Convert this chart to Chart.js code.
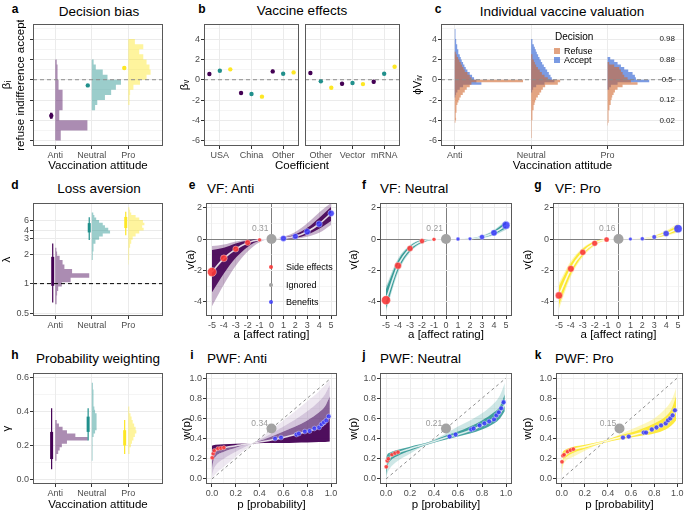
<!DOCTYPE html>
<html>
<head>
<meta charset="utf-8">
<title>Vaccine decision model</title>
<script src="https://cdn.jsdelivr.net/npm/chart.js@4.4.1/dist/chart.umd.min.js"></script>
<style>
  body { margin: 0; background: #fff; }
  #fig { position: relative; width: 685px; height: 512px; overflow: hidden; font-family: "Liberation Sans", Arial, Helvetica, sans-serif; }
  .box { position: absolute; }
  .txt { position: absolute; white-space: nowrap; line-height: 1; color: #000; }
  .sw { position: absolute; }
</style>
</head>
<body>
<div id="fig"></div>
<script>
// ---------------- data ----------------
const attitudes = ['Anti', 'Neutral', 'Pro'];

// a: decision bias (estimate, interval, individual histogram, bins of 0.5)
const biasTicks = [-6, -5, -4, -3, -2, -1, 0, 1, 2, 3, 4, 5];
const biasEst = [-3.55, -0.56, 1.15];
const biasLo = [-3.85, -0.68, 1.0];
const biasHi = [-3.25, -0.44, 1.3];
const biasHistStart = [-5.75, -2.75, -2.25];
const biasHistAnti = [0.15, 0.15, 0.88, 0.88, 0.11, 0.11, 0.2, 0.2, 0.2, 0.2, 0.09, 0.09, 0.07, 0.07, 0.05, 0.04];
const biasHistNeutral = [0.09, 0.15, 0.36, 0.53, 0.66, 0.8, 0.43, 0.3, 0.11, 0.05];
const biasHistPro = [0.02, 0.04, 0.05, 0.14, 0.32, 0.5, 0.61, 0.58, 0.5, 0.41, 0.3, 0.41, 0.18];

// b: vaccine effects
const vacOrigin = ['USA', 'China', 'Other'];
const vacType = ['Other', 'Vector', 'mRNA'];
const originAnti = [0.56, -1.31, 0.82];
const originNeutral = [0.89, -1.41, 0.59];
const originPro = [1.02, -1.67, 0.72];
const typeAnti = [0.66, -0.39, -0.2];
const typeNeutral = [-0.16, -0.33, 0.59];
const typePro = [-0.79, -0.43, 1.28];
const vacErr = [0.17, 0.08, 0.1];

// c: individual vaccine valuation, bins of 0.25 (first bin centre given)
const cAntiAccept = [2, 4, 8, 15, 25, 80, 65, 58, 52, 45, 38, 33, 29, 25, 21, 18, 15, 12, 10, 8, 7, 5, 4, 3, 3, 2, 1];
const cAntiRefuse = [2, 4, 3, 3, 4, 5, 6, 8, 11, 14, 18, 24, 30, 36, 45, 50, 205, 50, 45, 38, 30, 26, 22, 18, 14, 10, 6, 3];
const cNeutralAccept = [3, 6, 15, 40, 70, 62, 58, 53, 48, 43, 38, 33, 29, 25, 21, 17, 14, 11, 8, 5, 3];
const cNeutralRefuse = [1, 1, 1, 1, 2, 2, 2, 3, 3, 4, 5, 6, 8, 10, 12, 15, 20, 25, 30, 35, 42, 80, 87, 50, 40, 32, 26, 20, 15, 11, 8, 5, 3];
const cProAccept = [5, 10, 30, 125, 85, 82, 75, 62, 50, 40, 30, 20, 8];
const cProRefuse = [1, 2, 2, 3, 3, 4, 5, 6, 8, 10, 12, 14, 18, 22, 30, 45, 90, 70, 60, 50, 45, 40, 35, 20, 5];
const cAcceptStart = [-1.625, -1.125, -0.875];
const cRefuseStart = [-4.125, -5.625, -4.375];
const cProbAt = [4, 2, 0, -2, -4];
const cProbLabels = ['0.98', '0.88', '0.5', '0.12', '0.02'];

// d: loss aversion (histograms binned in log2(lambda), step 0.15)
const lossTicks = [0.5, 1, 2, 3, 4, 6];
const lossAxisPos = [-1, 0, 1, 1.522, 1.809, 2.15];
const lossThinLo = [0.64, 2.9, 3.4];
const lossThinHi = [2.65, 6.8, 8.5];
const lossThickLo = [0.95, 3.73, 4.4];
const lossThickHi = [1.88, 5.37, 6.9];
const lossHistStart = [-0.625, 0.875, 0.725];
const lossHistAnti = [0.03, 0.04, 0.05, 0.08, 0.18, 0.42, 0.93, 0.46, 0.25, 0.2, 0.12, 0.05, 0.03];
const lossHistNeutral = [0.02, 0.03, 0.04, 0.05, 0.1, 0.2, 0.3, 0.5, 0.45, 0.36, 0.3, 0.2, 0.12, 0.07, 0.04];
const lossHistPro = [0.01, 0.02, 0.02, 0.03, 0.05, 0.08, 0.12, 0.2, 0.3, 0.42, 0.38, 0.44, 0.4, 0.3, 0.2, 0.08, 0.05, 0.03];

// e-g: value functions
const affect = [-5, -4, -3, -2, -1, 0, 1, 2, 3, 4, 5];
const vfYTicks = [-4, -3, -2, -1, 0, 1, 2];
const vfAntiMed = [-2.1, -1.23, -0.64, -0.23, -0.05, 0, 0.04, 0.17, 0.47, 0.96, 1.64];
const vfAntiOuterLo = [-4.3, -2.9, -1.7, -0.8, -0.2, 0, 0, 0.02, 0.15, 0.4, 0.9];
const vfAntiInnerLo = [-3.4, -2.2, -1.2, -0.5, -0.1, 0, 0.01, 0.07, 0.28, 0.65, 1.15];
const vfAntiInnerHi = [-0.7, -0.55, -0.28, -0.09, -0.01, 0, 0.08, 0.3, 0.72, 1.35, 2.05];
const vfAntiOuterHi = [-0.45, -0.35, -0.15, -0.05, 0, 0, 0.15, 0.45, 1.0, 1.7, 2.3];
const vfNeutralMed = [-3.9, -1.7, -0.6, -0.13, -0.02, 0, 0, 0.02, 0.13, 0.4, 0.88];
const vfNeutralOuterLo = [-4.6, -2.15, -0.85, -0.27, -0.05, 0, 0, 0, 0.05, 0.24, 0.6];
const vfNeutralInnerLo = [-4.4, -2.0, -0.78, -0.22, -0.04, 0, 0, 0.01, 0.08, 0.3, 0.7];
const vfNeutralInnerHi = [-3.2, -1.38, -0.44, -0.06, -0.01, 0, 0, 0.04, 0.19, 0.52, 1.1];
const vfNeutralOuterHi = [-3.0, -1.25, -0.38, -0.04, 0, 0, 0.01, 0.05, 0.22, 0.58, 1.2];
const vfProMed = [-3.6, -1.9, -0.85, -0.27, -0.03, 0, 0, 0.02, 0.13, 0.35, 0.66];
const vfProOuterLo = [-4.45, -2.4, -1.15, -0.42, -0.07, 0, 0, 0, 0.05, 0.2, 0.42];
const vfProInnerLo = [-4.2, -2.25, -1.05, -0.37, -0.05, 0, 0, 0.01, 0.08, 0.25, 0.5];
const vfProInnerHi = [-3.0, -1.55, -0.62, -0.15, -0.01, 0, 0, 0.04, 0.2, 0.47, 0.85];
const vfProOuterHi = [-2.8, -1.4, -0.55, -0.12, 0, 0, 0.01, 0.05, 0.23, 0.55, 1.0];
// relative number of answers behind each dot (side effects -5..-1, benefits 1..5)
const vfAntiSideN = [1, 0.65, 0.5, 0.45, 0.15];
const vfAntiBenefitN = [0.5, 0.45, 0.55, 0.55, 0.55];
const vfNeutralSideN = [1, 0.65, 0.5, 0.35, 0.15];
const vfNeutralBenefitN = [0.15, 0.1, 0.35, 0.55, 0.8];
const vfProSideN = [0.7, 0.6, 0.5, 0.45, 0.35];
const vfProBenefitN = [0.1, 0.15, 0.25, 0.5, 0.85];
const ignoredShare = ['0.31', '0.21', '0.16'];

// h: probability weighting
const gammaTicks = [0, 0.1, 0.2, 0.3, 0.4, 0.5, 0.6];
const gammaThinLo = [0.06, 0.23, 0.15];
const gammaThinHi = [0.42, 0.42, 0.35];
const gammaThickLo = [0.12, 0.28, 0.2];
const gammaThickHi = [0.28, 0.37, 0.29];
const gammaHistStart = [0.12, 0.12, 0.16];
const gammaHistAnti = [0.02, 0.04, 0.08, 0.12, 0.18, 0.32, 0.89, 0.55, 0.32, 0.2, 0.1, 0.04];
const gammaHistNeutral = [0.01, 0.02, 0.02, 0.02, 0.02, 0.02, 0.03, 0.05, 0.09, 0.12, 0.13, 0.14, 0.14, 0.12, 0.09, 0.07, 0.06, 0.05, 0.05, 0.04, 0.04, 0.03, 0.03];
const gammaHistPro = [0.02, 0.04, 0.07, 0.1, 0.14, 0.18, 0.22, 0.2, 0.16, 0.12, 0.09, 0.06, 0.04, 0.02];

// i-k: probability weighting functions
const probTicks = [0, 0.1, 0.2, 0.3, 0.4, 0.5, 0.6, 0.7, 0.8, 0.9, 1];
const probP = [0, 0.01, 0.03, 0.1, 0.2, 0.37, 0.5, 0.6, 0.7, 0.8, 0.9, 0.95, 0.99];
const pwAntiC0 = [0.33, 0.335, 0.34, 0.345, 0.35, 0.355, 0.356, 0.357, 0.36, 0.362, 0.365, 0.367, 0.37];
const pwAntiMed = [0.2, 0.25, 0.28, 0.31, 0.33, 0.36, 0.385, 0.41, 0.44, 0.47, 0.51, 0.55, 0.63];
const pwAntiC2 = [0.1, 0.17, 0.22, 0.27, 0.31, 0.365, 0.42, 0.47, 0.52, 0.58, 0.66, 0.72, 0.82];
const pwAntiC3 = [0.03, 0.08, 0.13, 0.2, 0.27, 0.37, 0.45, 0.52, 0.59, 0.67, 0.77, 0.84, 0.93];
const pwAntiC4 = [0, 0.02, 0.05, 0.12, 0.22, 0.37, 0.49, 0.58, 0.67, 0.77, 0.87, 0.93, 0.98];
const pwNeutralOut = [0, 0.05, 0.1, 0.18, 0.25, 0.37, 0.45, 0.52, 0.58, 0.65, 0.75, 0.83, 0.95];
const pwNeutralLo = [0.04, 0.12, 0.17, 0.23, 0.28, 0.35, 0.39, 0.42, 0.45, 0.49, 0.55, 0.6, 0.67];
const pwNeutralMed = [0.12, 0.18, 0.21, 0.26, 0.3, 0.36, 0.41, 0.44, 0.48, 0.53, 0.6, 0.65, 0.74];
const pwNeutralHi = [0.2, 0.24, 0.26, 0.29, 0.32, 0.37, 0.43, 0.47, 0.52, 0.58, 0.66, 0.72, 0.84];
const pwProOut = [0.03, 0.12, 0.17, 0.22, 0.28, 0.37, 0.44, 0.49, 0.54, 0.6, 0.7, 0.78, 0.9];
const pwProLo = [0.1, 0.18, 0.21, 0.26, 0.3, 0.36, 0.39, 0.41, 0.43, 0.45, 0.49, 0.53, 0.58];
const pwProMed = [0.17, 0.22, 0.24, 0.29, 0.32, 0.37, 0.41, 0.43, 0.46, 0.49, 0.55, 0.6, 0.68];
const pwProHi = [0.24, 0.27, 0.29, 0.32, 0.34, 0.38, 0.43, 0.46, 0.5, 0.55, 0.62, 0.69, 0.82];
const probRedP = [0.002, 0.01, 0.02, 0.05, 0.075, 0.1];
const probBlueP = [0.53, 0.58, 0.71, 0.73, 0.78, 0.82, 0.86, 0.9, 0.92, 0.94, 0.96, 0.98];
const pwAntiRed = [0.21, 0.25, 0.28, 0.3, 0.305, 0.31];
const pwAntiBlue = [0.4, 0.41, 0.44, 0.45, 0.47, 0.475, 0.5, 0.51, 0.54, 0.56, 0.58, 0.62];
const pwNeutralRed = [0.12, 0.18, 0.2, 0.24, 0.255, 0.265];
const pwNeutralBlue = [0.42, 0.44, 0.49, 0.5, 0.53, 0.55, 0.57, 0.59, 0.63, 0.66, 0.7, 0.76];
const pwProRed = [0.17, 0.23, 0.24, 0.27, 0.285, 0.295];
const pwProBlue = [0.41, 0.42, 0.46, 0.46, 0.49, 0.51, 0.53, 0.55, 0.58, 0.6, 0.63, 0.68];
const pwIgnored = ['0.34', '0.21', '0.15'];

// ---------------- styles & helpers ----------------
const FONT = '"Liberation Sans", Arial, Helvetica, sans-serif';
const fig = document.getElementById('fig');
const vir = ['#440154', '#21908C', '#FDE725'];
const virHist = ['rgba(68,1,84,0.45)', 'rgba(33,144,140,0.45)', 'rgba(253,231,37,0.45)'];
const refuseCol = 'rgba(208,103,47,0.6)';
const acceptCol = 'rgba(35,88,208,0.6)';
const redCol = 'rgba(250,55,55,0.9)';
const blueCol = 'rgba(55,55,250,0.85)';
const grayCol = '#A3A3A3';
const dashCol = '#8C8C8C';

const isInt = v => Math.abs(v - Math.round(v)) < 1e-9;
const even = v => isInt(v / 2);
const evenTenth = v => isInt(v * 5);
const always = () => true;
const catLabel = v => attitudes[Math.round(v) - 1];
const dotR = n => 1.5 + 3 * n;

// axis positions for the loss aversion scale (piecewise in log lambda)
function lossToAxis(v) {
  const lv = Math.log(v);
  const lb = lossTicks.map(Math.log);
  let i = 0;
  while (i < lb.length - 2 && lv > lb[i + 1]) i++;
  const f = (lv - lb[i]) / (lb[i + 1] - lb[i]);
  return lossAxisPos[i] + f * (lossAxisPos[i + 1] - lossAxisPos[i]);
}
class LossScale extends Chart.LinearScale {
  determineDataLimits() { this.min = lossToAxis(this.options.min); this.max = lossToAxis(this.options.max); }
  buildTicks() { return lossTicks.map(v => ({ value: v })); }
  getPixelForValue(v) { return super.getPixelForValue(lossToAxis(v)); }
}
LossScale.id = 'loss';
LossScale.defaults = {};
Chart.register(LossScale);

function axis(o) {
  const major = o.major || always;
  const ax = {
    type: o.type || 'linear',
    min: o.min, max: o.max, offset: false,
    border: { display: false },
    grid: {
      offset: false, drawTicks: true, tickLength: 3, tickWidth: 1,
      color: c => (o.zero && c.tick && Math.abs(c.tick.value) < 1e-9) ? '#7F7F7F' : '#EBEBEB',
      lineWidth: c => (c.tick && major(c.tick.value)) ? 1 : 0.5,
      tickColor: c => (c.tick && major(c.tick.value)) ? '#333333' : 'rgba(0,0,0,0)',
    },
    ticks: {
      display: o.labels !== false, color: '#4D4D4D', font: { family: FONT, size: 9 },
      padding: 1, autoSkip: false, maxRotation: 0, minRotation: 0,
      callback: v => (major(v) ? (o.fmt ? o.fmt(v) : String(v)) : ''),
    },
    title: o.title
      ? { display: true, text: o.title, color: '#000', font: { family: FONT, size: 11.5, lineHeight: 1.2 }, padding: { top: o.tpad || 0, bottom: 0 } }
      : { display: false },
  };
  if (o.ticksAt) ax.afterBuildTicks = s => { s.ticks = o.ticksAt.map(v => ({ value: v })); };
  return ax;
}

function framePlugin(marks) {
  return {
    id: 'frame',
    afterDatasetsDraw(chart) {
      const { ctx, scales } = chart;
      marks.forEach(m => {
        ctx.save();
        ctx.font = m.size + 'px ' + FONT;
        ctx.fillStyle = m.color;
        ctx.textAlign = m.align || 'center';
        ctx.textBaseline = 'middle';
        ctx.fillText(m.text, scales.x.getPixelForValue(m.x), scales.y.getPixelForValue(m.y));
        ctx.restore();
      });
    },
    afterDraw(chart) {
      const { ctx, chartArea: a } = chart;
      ctx.save();
      ctx.strokeStyle = '#595959';
      ctx.lineWidth = 1;
      ctx.strokeRect(Math.round(a.left) + 0.5, Math.round(a.top) + 0.5, Math.round(a.width) - 1, Math.round(a.height) - 1);
      ctx.restore();
    }
  };
}

function panel(plot, yw, xh, datasets, scales, marks) {
  const l = plot.l - yw, t = plot.t - 4;
  const w = plot.r + 4 - l, h = plot.b + xh - t;
  const div = document.createElement('div');
  div.className = 'box';
  div.style.cssText = `left:${l}px;top:${t}px;width:${w}px;height:${h}px`;
  const cv = document.createElement('canvas');
  cv.width = w; cv.height = h;
  cv.style.width = w + 'px'; cv.style.height = h + 'px';
  div.appendChild(cv);
  fig.appendChild(div);
  const zero = s => { s.paddingLeft = 0; s.paddingRight = 0; s.paddingTop = 0; s.paddingBottom = 0; };
  scales.x.afterFit = s => { s.height = xh; zero(s); };
  scales.y.afterFit = s => { s.width = yw; zero(s); };
  return new Chart(cv, {
    type: 'scatter',
    data: { datasets },
    options: {
      responsive: false, animation: false, events: [],
      layout: { padding: { top: 4, right: 4, left: 0, bottom: 0 }, autoPadding: false },
      plugins: { legend: { display: false }, tooltip: { enabled: false } },
      scales,
    },
    plugins: [framePlugin(marks || [])],
  });
}

// sideways histogram drawn as one filled step outline (bin centre start, constant bin step)
function hist(base, start, step, widths, scale, color, ymap) {
  const f = ymap || (v => v);
  const pts = [];
  widths.forEach((w, i) => {
    const lo = f(start + (i - 0.5) * step), hi = f(start + (i + 0.5) * step);
    const x = base + w * scale;
    if (i === 0) pts.push({ x: base, y: lo });
    pts.push({ x, y: lo }, { x, y: hi });
  });
  pts.push({ x: base, y: f(start + (widths.length - 0.5) * step) });
  return {
    type: 'line', data: pts, borderWidth: 0, borderColor: 'rgba(0,0,0,0)', pointRadius: 0,
    tension: 0, fill: 'shape', backgroundColor: color, order: 8,
  };
}
function line(data, color, width, extra) {
  return Object.assign({
    type: 'line', data, borderColor: color, borderWidth: width, pointRadius: 0,
    fill: false, tension: 0, borderCapStyle: 'butt', order: 3,
  }, extra || {});
}
function dots(data, color, radius, extra) {
  return Object.assign({
    type: 'scatter', data, backgroundColor: color, borderColor: color,
    pointRadius: radius, pointBorderWidth: 0, order: 1,
  }, extra || {});
}
const hline = (y, x0, x1, color, dash) => line([{ x: x0, y }, { x: x1, y }], color || dashCol, 1, { borderDash: dash || [4, 3], order: 2 });
const vseg = (x, lo, hi, color, width) => line([{ x, y: lo }, { x, y: hi }], color, width, { order: 3 });

function addText(str, x, y, size, opt) {
  opt = opt || {};
  const d = document.createElement('div');
  d.className = 'txt';
  d.textContent = str;
  d.style.fontSize = size + 'px';
  d.style.left = x + 'px';
  d.style.top = y + 'px';
  d.style.transform = opt.align === 'left' ? 'translate(0,-50%)' : 'translate(-50%,-50%)';
  if (opt.bold) d.style.fontWeight = 'bold';
  if (opt.color) d.style.color = opt.color;
  fig.appendChild(d);
}
function addSwatch(x, y, w, h, color, round) {
  const d = document.createElement('div');
  d.className = 'sw';
  d.style.cssText = `left:${x - w / 2}px;top:${y - h / 2}px;width:${w}px;height:${h}px;background:${color};border-radius:${round ? '50%' : '0'}`;
  fig.appendChild(d);
}

const catX = (min, max, title, labels) => axis({ min, max, ticksAt: [1, 2, 3], fmt: catLabel, title, labels });

// ---------------- a: decision bias ----------------
{
  const hists = [biasHistAnti, biasHistNeutral, biasHistPro];
  const sets = hists.map((hh, k) => hist(k + 1, biasHistStart[k], 0.5, hh, 1, virHist[k]));
  sets.push(hline(0, 0.39, 3.95));
  attitudes.forEach((_, k) => {
    const x = k + 1 - 0.11;
    sets.push(vseg(x, biasLo[k], biasHi[k], vir[k], 2.5));
    sets.push(dots([{ x, y: biasEst[k] }], vir[k], 2.2));
  });
  panel({ l: 33, t: 24, r: 163, b: 146 }, 33, 27, sets, {
    x: catX(0.39, 3.95, 'Vaccination attitude'),
    y: axis({ min: -6.53, max: 5.49, ticksAt: biasTicks, major: even, labels: false, title: ['βᵢ', 'refuse indifference accept'] }),
  });
}

// ---------------- b: vaccine effects ----------------
function vacSets(vals) {
  const sets = [hline(0, 0.5, 3.5)];
  const offs = [-0.33, 0, 0.33];
  vals.forEach((arr, k) => {
    arr.forEach((v, g) => {
      const x = g + 1 + offs[k];
      sets.push(vseg(x, v - vacErr[k], v + vacErr[k], vir[k], 2));
    });
    sets.push(dots(arr.map((v, g) => ({ x: g + 1 + offs[k], y: v })), vir[k], 2.2));
  });
  return sets;
}
panel({ l: 204, t: 24, r: 299, b: 146 }, 26, 20, vacSets([originAnti, originNeutral, originPro]), {
  x: axis({ min: 0.5, max: 3.5, ticksAt: [1, 2, 3], fmt: v => vacOrigin[Math.round(v) - 1] }),
  y: axis({ min: -6.53, max: 5.49, ticksAt: biasTicks, major: even, title: 'βᵥ' }),
});
panel({ l: 305, t: 24, r: 400, b: 146 }, 0, 20, vacSets([typeAnti, typeNeutral, typePro]), {
  x: axis({ min: 0.5, max: 3.5, ticksAt: [1, 2, 3], fmt: v => vacType[Math.round(v) - 1] }),
  y: axis({ min: -6.53, max: 5.49, ticksAt: biasTicks, major: even, labels: false }),
});

// ---------------- c: individual vaccine valuation ----------------
{
  const cScale = 1 / 229.5;
  const acc = [cAntiAccept, cNeutralAccept, cProAccept];
  const ref = [cAntiRefuse, cNeutralRefuse, cProRefuse];
  const sets = [];
  attitudes.forEach((_, k) => {
    sets.push(Object.assign(hist(k + 1, cAcceptStart[k], 0.25, acc[k], cScale, acceptCol), { order: 9 }));
    sets.push(hist(k + 1, cRefuseStart[k], 0.25, ref[k], cScale, refuseCol));
  });
  sets.push(hline(0, 0.82, 4.0));
  panel({ l: 441, t: 24, r: 684, b: 146 }, 31, 27, sets, {
    x: catX(0.82, 4.0, 'Vaccination attitude'),
    y: axis({ min: -6.53, max: 5.49, ticksAt: biasTicks, major: even, title: 'ϕVᵢᵥ', tpad: 1 }),
  }, cProbAt.map((y, i) => ({ x: 3.78, y, text: cProbLabels[i], size: 8, color: '#1A1A1A' })));
}

// ---------------- d: loss aversion ----------------
{
  const hists = [lossHistAnti, lossHistNeutral, lossHistPro];
  const sets = hists.map((hh, k) => hist(k + 1, lossHistStart[k], 0.15, hh, 1, virHist[k], c => Math.pow(2, c)));
  sets.push(hline(1, 0.39, 3.95, '#000', [4, 3]));
  attitudes.forEach((_, k) => {
    const x = k + 1 - 0.07;
    sets.push(vseg(x, lossThinLo[k], lossThinHi[k], vir[k], 1.2));
    sets.push(vseg(x, lossThickLo[k], lossThickHi[k], vir[k], 3));
  });
  panel({ l: 33, t: 203, r: 163, b: 316 }, 33, 20, sets, {
    x: catX(0.39, 3.95),
    y: axis({ type: 'loss', min: 0.4665, max: 12.1, title: 'λ' }),
  });
}

// ---------------- e-g: value functions ----------------
function vfSets(b) {
  const P = ys => affect.map((a, i) => ({ x: a, y: ys[i] }));
  const curve = (ys, extra) => Object.assign({
    type: 'line', data: P(ys), borderWidth: 0, borderColor: 'rgba(0,0,0,0)', pointRadius: 0,
    cubicInterpolationMode: 'monotone', fill: false, order: 10,
  }, extra || {});
  return [
    curve(b.outerLo),
    curve(b.outerHi, { fill: '-1', backgroundColor: b.outerCol }),
    curve(b.innerLo),
    curve(b.innerHi, { fill: '-1', backgroundColor: b.innerCol }),
    curve(b.med, { borderWidth: 1.6, borderColor: 'rgba(255,255,255,0.85)', order: 4 }),
    dots(affect.slice(0, 5).map((a, i) => ({ x: a, y: b.med[i] })), redCol, b.side.map(dotR), { pointBorderWidth: 0.6, borderColor: 'rgba(255,255,255,0.6)' }),
    dots([{ x: 0, y: 0 }], grayCol, 5),
    dots(affect.slice(6).map((a, i) => ({ x: a, y: b.med[i + 6] })), blueCol, b.benefit.map(dotR), { pointBorderWidth: 0.6, borderColor: 'rgba(255,255,255,0.6)' }),
  ];
}
const vfScales = () => ({
  x: axis({ min: -5.5, max: 5.5, ticksAt: affect, zero: true, title: 'a [affect rating]' }),
  y: axis({ min: -4.91, max: 2.3, ticksAt: vfYTicks, major: even, zero: true, title: 'v(a)' }),
});
const vfMark = k => [{ x: -0.95, y: 0.65, text: ignoredShare[k], size: 8.5, color: '#999999' }];
panel({ l: 206, t: 203, r: 337, b: 316 }, 22, 26, vfSets({
  outerLo: vfAntiOuterLo, outerHi: vfAntiOuterHi, innerLo: vfAntiInnerLo, innerHi: vfAntiInnerHi, med: vfAntiMed,
  outerCol: 'rgba(68,1,84,0.3)', innerCol: 'rgba(68,1,84,0.9)', side: vfAntiSideN, benefit: vfAntiBenefitN,
}), vfScales(), vfMark(0));
panel({ l: 380, t: 203, r: 512, b: 316 }, 33, 26, vfSets({
  outerLo: vfNeutralOuterLo, outerHi: vfNeutralOuterHi, innerLo: vfNeutralInnerLo, innerHi: vfNeutralInnerHi, med: vfNeutralMed,
  outerCol: 'rgba(33,144,140,0.3)', innerCol: 'rgba(33,144,140,0.85)', side: vfNeutralSideN, benefit: vfNeutralBenefitN,
}), vfScales(), vfMark(1));
panel({ l: 553, t: 203, r: 684, b: 316 }, 32, 26, vfSets({
  outerLo: vfProOuterLo, outerHi: vfProOuterHi, innerLo: vfProInnerLo, innerHi: vfProInnerHi, med: vfProMed,
  outerCol: 'rgba(253,231,37,0.35)', innerCol: 'rgba(253,231,37,0.9)', side: vfProSideN, benefit: vfProBenefitN,
}), vfScales(), vfMark(2));

// ---------------- h: probability weighting ----------------
{
  const hists = [gammaHistAnti, gammaHistNeutral, gammaHistPro];
  const sets = hists.map((hh, k) => hist(k + 1, gammaHistStart[k], 0.02, hh, 1, virHist[k]));
  attitudes.forEach((_, k) => {
    const x = k + 1 - 0.1;
    sets.push(vseg(x, gammaThinLo[k], gammaThinHi[k], vir[k], 1.2));
    sets.push(vseg(x, gammaThickLo[k], gammaThickHi[k], vir[k], 3));
  });
  panel({ l: 33, t: 373, r: 163, b: 484 }, 33, 28, sets, {
    x: catX(0.39, 3.95, 'Vaccination attitude'),
    y: axis({ min: -0.027, max: 0.627, ticksAt: gammaTicks, major: evenTenth, fmt: v => v.toFixed(1), title: 'γ' }),
  });
}

// ---------------- i-k: probability weighting functions ----------------
function pwSets(layers, med, red, blue) {
  const P = ys => probP.map((p, i) => ({ x: p, y: ys[i] }));
  const sets = layers.map(L => ({
    type: 'line', data: P(L.ys), borderWidth: 0, borderColor: 'rgba(0,0,0,0)', pointRadius: 0,
    cubicInterpolationMode: 'monotone', fill: L.col ? '-1' : false, backgroundColor: L.col || 'rgba(0,0,0,0)', order: 10,
  }));
  sets.push(line([{ x: 0, y: 0 }, { x: 1, y: 1 }], dashCol, 1, { borderDash: [3, 3], order: 5 }));
  sets.push(line(P(med), 'rgba(255,255,255,0.8)', 1.5, { cubicInterpolationMode: 'monotone', order: 4 }));
  sets.push(dots(probRedP.map((p, i) => ({ x: p, y: red[i] })), redCol, 2.1, { pointBorderWidth: 0.6, borderColor: 'rgba(255,255,255,0.6)' }));
  sets.push(dots(probBlueP.map((p, i) => ({ x: p, y: blue[i] })), blueCol, 2.4, { pointBorderWidth: 0.6, borderColor: 'rgba(255,255,255,0.6)' }));
  sets.push(dots([{ x: 0.5, y: 0.5 }], grayCol, 5));
  return sets;
}
const pwScales = () => ({
  x: axis({ min: -0.05, max: 1.05, ticksAt: probTicks, major: evenTenth, fmt: v => v.toFixed(1), title: 'p [probability]' }),
  y: axis({ min: -0.05, max: 1.05, ticksAt: probTicks, major: evenTenth, fmt: v => v.toFixed(1), title: 'w(p)' }),
});
const pwMark = k => [{ x: 0.4, y: 0.545, text: pwIgnored[k], size: 8.5, color: '#999999' }];
panel({ l: 206, t: 373, r: 337, b: 484 }, 26, 28, pwSets([
  { ys: pwAntiC0 },
  { ys: pwAntiMed, col: 'rgba(68,1,84,0.95)' },
  { ys: pwAntiC2, col: 'rgba(95,45,118,0.75)' },
  { ys: pwAntiC3, col: 'rgba(160,128,178,0.45)' },
  { ys: pwAntiC4, col: 'rgba(205,188,214,0.35)' },
], pwAntiMed, pwAntiRed, pwAntiBlue), pwScales(), pwMark(0));
panel({ l: 380, t: 373, r: 512, b: 484 }, 33, 28, pwSets([
  { ys: pwNeutralOut },
  { ys: pwNeutralMed, col: 'rgba(33,144,140,0.22)' },
  { ys: pwNeutralLo },
  { ys: pwNeutralHi, col: 'rgba(33,144,140,0.82)' },
], pwNeutralMed, pwNeutralRed, pwNeutralBlue), pwScales(), pwMark(1));
panel({ l: 556, t: 373, r: 683, b: 484 }, 35, 28, pwSets([
  { ys: pwProOut },
  { ys: pwProMed, col: 'rgba(253,231,37,0.3)' },
  { ys: pwProLo },
  { ys: pwProHi, col: 'rgba(253,231,37,0.88)' },
], pwProMed, pwProRed, pwProBlue), pwScales(), pwMark(2));

// ---------------- titles, letters, legends ----------------
[['a', 15, 9], ['b', 202, 9], ['c', 438, 9], ['d', 15, 185], ['e', 192, 185], ['f', 364, 185], ['g', 538, 185],
 ['h', 15, 355], ['i', 192, 355], ['j', 364, 355], ['k', 538, 355]].forEach(([s, x, y]) => addText(s, x, y, 12, { bold: true }));
addText('Decision bias', 99, 12, 13.5);
addText('Vaccine effects', 302, 11, 13.5);
addText('Individual vaccine valuation', 562, 12, 13.5);
addText('Loss aversion', 99, 189, 13.5);
addText('VF: Anti', 207, 189, 13.5, { align: 'left' });
addText('VF: Neutral', 380, 189, 13.5, { align: 'left' });
addText('VF: Pro', 555, 189, 13.5, { align: 'left' });
addText('Probability weighting', 98, 359, 13.5);
addText('PWF: Anti', 207, 359, 13.5, { align: 'left' });
addText('PWF: Neutral', 380, 359, 13.5, { align: 'left' });
addText('PWF: Pro', 555, 359, 13.5, { align: 'left' });
addText('Coefficient', 302, 166, 11.5);

addText('Decision', 555, 37, 10, { align: 'left' });
addSwatch(557, 51, 6, 6, 'rgba(208,103,47,0.6)');
addText('Refuse', 564, 51, 9, { align: 'left' });
addSwatch(557, 60, 6, 6, 'rgba(35,88,208,0.6)');
addText('Accept', 564, 60, 9, { align: 'left' });

addSwatch(271, 267, 4, 4, redCol, true);
addText('Side effects', 286, 267, 9, { align: 'left' });
addSwatch(271, 285, 4, 4, grayCol, true);
addText('Ignored', 286, 285, 9, { align: 'left' });
addSwatch(271, 302, 4, 4, blueCol, true);
addText('Benefits', 286, 302, 9, { align: 'left' });
</script>
</body>
</html>
